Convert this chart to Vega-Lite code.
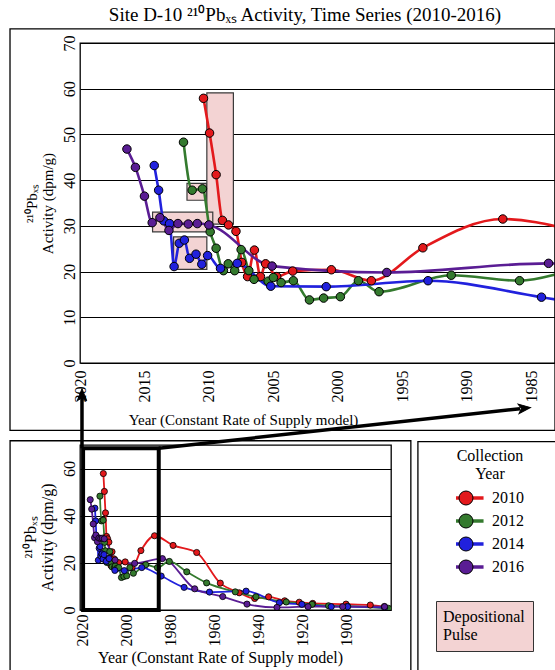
{
  "$schema": "https://vega.github.io/schema/vega-lite/v6.json",
  "background": "white",
  "padding": {"left": 8, "top": 5, "right": 0, "bottom": 0},
  "title": {"text": "Site D-10 ²¹⁰Pbₓₛ Activity, Time Series (2010-2016)", "font": "Liberation Serif", "fontSize": 19, "fontWeight": "normal", "color": "black", "anchor": "middle", "offset": 3, "dx": 22},
  "bounds": "flush",
  "spacing": 82,
  "datasets": {
    "series": [
      {"collection": "2010", "year": 2010.42, "activity": 57.9},
      {"collection": "2010", "year": 2009.95, "activity": 50.3},
      {"collection": "2010", "year": 2009.44, "activity": 41.2},
      {"collection": "2010", "year": 2008.95, "activity": 31.2},
      {"collection": "2010", "year": 2008.48, "activity": 30.2},
      {"collection": "2010", "year": 2007.9, "activity": 28.8},
      {"collection": "2010", "year": 2007.45, "activity": 22.0},
      {"collection": "2010", "year": 2007.0, "activity": 18.9},
      {"collection": "2010", "year": 2006.47, "activity": 24.7},
      {"collection": "2010", "year": 2006.0, "activity": 18.9},
      {"collection": "2010", "year": 2005.6, "activity": 21.7},
      {"collection": "2010", "year": 2004.74, "activity": 18.9},
      {"collection": "2010", "year": 2003.5, "activity": 20.1},
      {"collection": "2010", "year": 2000.5, "activity": 20.4},
      {"collection": "2010", "year": 1997.4, "activity": 18.0},
      {"collection": "2010", "year": 1993.4, "activity": 25.2},
      {"collection": "2010", "year": 1987.2, "activity": 31.5},
      {"collection": "2010", "year": 1978.8, "activity": 27.4},
      {"collection": "2010", "year": 1968.1, "activity": 24.4},
      {"collection": "2010", "year": 1957.4, "activity": 11.4},
      {"collection": "2010", "year": 1948.8, "activity": 7.3},
      {"collection": "2010", "year": 1941.8, "activity": 4.9},
      {"collection": "2010", "year": 1935.5, "activity": 5.6},
      {"collection": "2010", "year": 1928.2, "activity": 3.9},
      {"collection": "2010", "year": 1921.6, "activity": 3.3},
      {"collection": "2010", "year": 1915.5, "activity": 2.8},
      {"collection": "2010", "year": 1900.4, "activity": 2.5},
      {"collection": "2010", "year": 1889.4, "activity": 2.1},
      {"collection": "2010", "year": 1883.0, "activity": 1.5},
      {"collection": "2012", "year": 2011.97, "activity": 48.3},
      {"collection": "2012", "year": 2011.3, "activity": 37.8},
      {"collection": "2012", "year": 2010.5, "activity": 38.1},
      {"collection": "2012", "year": 2009.9, "activity": 28.7},
      {"collection": "2012", "year": 2009.44, "activity": 25.1},
      {"collection": "2012", "year": 2008.87, "activity": 20.2},
      {"collection": "2012", "year": 2008.5, "activity": 21.7},
      {"collection": "2012", "year": 2008.0, "activity": 20.2},
      {"collection": "2012", "year": 2007.5, "activity": 24.8},
      {"collection": "2012", "year": 2006.9, "activity": 20.2},
      {"collection": "2012", "year": 2006.5, "activity": 18.3},
      {"collection": "2012", "year": 2005.4, "activity": 17.9},
      {"collection": "2012", "year": 2005.0, "activity": 18.7},
      {"collection": "2012", "year": 2004.4, "activity": 17.6},
      {"collection": "2012", "year": 2003.45, "activity": 18.0},
      {"collection": "2012", "year": 2002.2, "activity": 13.8},
      {"collection": "2012", "year": 2001.1, "activity": 14.2},
      {"collection": "2012", "year": 1999.8, "activity": 14.5},
      {"collection": "2012", "year": 1998.4, "activity": 18.0},
      {"collection": "2012", "year": 1996.8, "activity": 15.6},
      {"collection": "2012", "year": 1991.2, "activity": 19.2},
      {"collection": "2012", "year": 1985.9, "activity": 18.0},
      {"collection": "2012", "year": 1980.5, "activity": 20.6},
      {"collection": "2012", "year": 1972.6, "activity": 16.2},
      {"collection": "2012", "year": 1963.6, "activity": 11.5},
      {"collection": "2012", "year": 1950.6, "activity": 7.7},
      {"collection": "2012", "year": 1941.2, "activity": 5.6},
      {"collection": "2012", "year": 1927.5, "activity": 3.4},
      {"collection": "2012", "year": 1915.8, "activity": 2.4},
      {"collection": "2012", "year": 1908.3, "activity": 1.8},
      {"collection": "2012", "year": 1899.7, "activity": 1.6},
      {"collection": "2012", "year": 1881.1, "activity": 0.7},
      {"collection": "2014", "year": 2014.24, "activity": 43.2},
      {"collection": "2014", "year": 2013.9, "activity": 37.8},
      {"collection": "2014", "year": 2013.5, "activity": 31.1},
      {"collection": "2014", "year": 2013.05, "activity": 30.5},
      {"collection": "2014", "year": 2012.7, "activity": 21.1},
      {"collection": "2014", "year": 2012.3, "activity": 26.2},
      {"collection": "2014", "year": 2011.9, "activity": 26.9},
      {"collection": "2014", "year": 2011.5, "activity": 22.9},
      {"collection": "2014", "year": 2011.0, "activity": 23.8},
      {"collection": "2014", "year": 2010.55, "activity": 21.6},
      {"collection": "2014", "year": 2010.1, "activity": 23.5},
      {"collection": "2014", "year": 2009.1, "activity": 20.7},
      {"collection": "2014", "year": 2007.8, "activity": 21.8},
      {"collection": "2014", "year": 2005.2, "activity": 16.8},
      {"collection": "2014", "year": 2000.9, "activity": 16.7},
      {"collection": "2014", "year": 1993.0, "activity": 18.0},
      {"collection": "2014", "year": 1984.2, "activity": 14.4},
      {"collection": "2014", "year": 1973.8, "activity": 9.6},
      {"collection": "2014", "year": 1962.3, "activity": 7.6},
      {"collection": "2014", "year": 1945.7, "activity": 8.0},
      {"collection": "2014", "year": 1930.6, "activity": 3.1},
      {"collection": "2014", "year": 1920.4, "activity": 2.4},
      {"collection": "2014", "year": 1907.1, "activity": 1.4},
      {"collection": "2014", "year": 1899.7, "activity": 1.4},
      {"collection": "2014", "year": 1882.9, "activity": 1.0},
      {"collection": "2016", "year": 2016.36, "activity": 46.8},
      {"collection": "2016", "year": 2015.7, "activity": 42.8},
      {"collection": "2016", "year": 2015.0, "activity": 36.5},
      {"collection": "2016", "year": 2014.4, "activity": 30.7},
      {"collection": "2016", "year": 2013.8, "activity": 31.8},
      {"collection": "2016", "year": 2013.1, "activity": 29.0},
      {"collection": "2016", "year": 2012.4, "activity": 30.5},
      {"collection": "2016", "year": 2011.6, "activity": 30.4},
      {"collection": "2016", "year": 2010.9, "activity": 30.5},
      {"collection": "2016", "year": 2010.0, "activity": 30.2},
      {"collection": "2016", "year": 2005.1, "activity": 21.2},
      {"collection": "2016", "year": 1996.2, "activity": 19.8},
      {"collection": "2016", "year": 1983.65, "activity": 21.8},
      {"collection": "2016", "year": 1969.0, "activity": 9.0},
      {"collection": "2016", "year": 1956.3, "activity": 5.7},
      {"collection": "2016", "year": 1945.3, "activity": 2.5},
      {"collection": "2016", "year": 1931.7, "activity": 1.1},
      {"collection": "2016", "year": 1917.6, "activity": 1.4},
      {"collection": "2016", "year": 1901.9, "activity": 1.4},
      {"collection": "2016", "year": 1882.9, "activity": 1.4}
    ],
    "pulses": [
      {"start": 2010.16, "end": 2008.1, "low": 30.4, "high": 59.1},
      {"start": 2011.7, "end": 2010.2, "low": 35.6, "high": 39.3},
      {"start": 2014.37, "end": 2009.7, "low": 28.7, "high": 33.0},
      {"start": 2012.74, "end": 2010.16, "low": 20.5, "high": 27.6}
    ]
  },
  "vconcat": [
    {
      "width": 475,
      "height": 320,
      "layer": [
        {
          "data": {"name": "pulses"},
          "mark": {"type": "rect", "stroke": "#3a3a3a", "strokeWidth": 1.2, "opacity": 1},
          "encoding": {
            "x": {"field": "start", "type": "quantitative", "title": "Year (Constant Rate of Supply model)",
              "scale": {"domain": [1983.15, 2020], "reverse": true, "nice": false, "zero": false},
              "axis": {"values": [2020, 2015, 2010, 2005, 2000, 1995, 1990, 1985], "format": "d", "labelFontSize": 16, "labelPadding": 7, "titleFontSize": 15, "titlePadding": 10, "titleX": 163}},
            "x2": {"field": "end"},
            "y": {"field": "low", "type": "quantitative", "title": ["²¹⁰Pbₓₛ", "Activity (dpm/g)"],
              "scale": {"domain": [0, 70], "nice": false, "zero": false},
              "axis": {"values": [0, 10, 20, 30, 40, 50, 60, 70], "labelFontSize": 16, "labelPadding": 3, "titleFontSize": 15, "titlePadding": 6, "titleLineHeight": 16}},
            "y2": {"field": "high"},
            "color": {"datum": "Depositional Pulse", "type": "nominal", "scale": {"range": ["#f3d3d3"]},
              "legend": {"orient": "none", "legendX": 356, "legendY": 558, "title": null, "symbolSize": 0, "symbolOpacity": 0, "symbolStrokeWidth": 0, "labelOffset": -17, "labelExpr": "['Depositional', 'Pulse']", "labelFont": "Liberation Serif", "labelFontSize": 16, "labelColor": "black", "padding": 8, "fillColor": "#f3d3d3", "strokeColor": "#333333"}}
          }
        },
        {
          "data": {"name": "series"},
          "mark": {"type": "line", "clip": true, "strokeWidth": 2.6, "interpolate": "monotone"},
          "encoding": {
            "x": {"field": "year", "type": "quantitative", "title": "Year (Constant Rate of Supply model)"},
            "y": {"field": "activity", "type": "quantitative", "title": ["²¹⁰Pbₓₛ", "Activity (dpm/g)"]},
            "stroke": {"field": "collection", "type": "nominal",
              "scale": {"range": ["#e3191c", "#347a2e", "#2121dd", "#5a1d94"]},
              "legend": {"orient": "none", "legendX": 376, "legendY": 405, "title": ["Collection", "Year"], "titleFont": "Liberation Serif", "titleFontSize": 16, "titleFontWeight": "normal", "titleColor": "black", "titleAlign": "center", "titleAnchor": "middle", "titleLineHeight": 18, "titlePadding": 8, "labelFont": "Liberation Serif", "labelFontSize": 16, "labelColor": "black", "labelOffset": 18, "symbolType": "M-2.65,0L2.65,0", "symbolSize": 196, "symbolStrokeWidth": 3.5, "rowPadding": 7, "clipHeight": 16, "zindex": 0}}
          }
        },
        {
          "data": {"name": "series"},
          "mark": {"type": "point", "clip": true, "filled": true, "opacity": 1, "stroke": "black", "strokeWidth": 1, "size": 72},
          "encoding": {
            "x": {"field": "year", "type": "quantitative", "title": "Year (Constant Rate of Supply model)"},
            "y": {"field": "activity", "type": "quantitative", "title": ["²¹⁰Pbₓₛ", "Activity (dpm/g)"]},
            "fill": {"field": "collection", "type": "nominal",
              "scale": {"domain": ["2010", "2012", "2014", "2016"], "range": ["#e3191c", "#347a2e", "#2121dd", "#5a1d94"]},
              "legend": {"orient": "none", "legendX": 378, "legendY": 405, "title": ["Collection", "Year"], "titleFont": "Liberation Serif", "titleFontSize": 16, "titleFontWeight": "normal", "titleAlign": "center", "titleAnchor": "middle", "titleLineHeight": 18, "titlePadding": 8, "titleOpacity": 0, "labelFont": "Liberation Serif", "labelFontSize": 16, "labelOpacity": 0, "labelOffset": 18, "symbolType": "circle", "symbolSize": 196, "symbolStrokeColor": "black", "symbolStrokeWidth": 1, "rowPadding": 7, "clipHeight": 16, "zindex": 1}}
          }
        },
        {
          "data": {"values": [{}]},
          "mark": {"type": "rect", "fill": "transparent", "stroke": "black", "strokeWidth": 1.3},
          "encoding": {
            "x": {"datum": 2025.43, "type": "quantitative"},
            "x2": {"datum": 1983.15},
            "y": {"datum": 73.1, "type": "quantitative"},
            "y2": {"datum": -14.75}
          }
        }
      ]
    },
    {
      "width": 311,
      "height": 165,
      "layer": [
        {
          "data": {"name": "series"},
          "mark": {"type": "line", "clip": true, "strokeWidth": 1.8, "interpolate": "monotone"},
          "encoding": {
            "x": {"field": "year", "type": "quantitative", "title": "Year (Constant Rate of Supply model)",
              "scale": {"domain": [1880, 2021], "reverse": true, "nice": false, "zero": false},
              "axis": {"values": [2020, 2000, 1980, 1960, 1940, 1920, 1900], "format": "d", "labelFontSize": 16, "labelPadding": 4, "titleFontSize": 16, "titlePadding": 3, "titleX": 140}},
            "y": {"field": "activity", "type": "quantitative", "title": ["²¹⁰Pbₓₛ", "Activity (dpm/g)"],
              "scale": {"domain": [0, 70], "nice": false, "zero": false},
              "axis": {"values": [0, 20, 40, 60], "labelFontSize": 16, "labelPadding": 3, "titleFontSize": 16, "titlePadding": 6, "titleLineHeight": 17, "titleY": 92}},
            "stroke": {"field": "collection", "type": "nominal",
              "scale": {"range": ["#e3191c", "#347a2e", "#2121dd", "#5a1d94"]}}
          }
        },
        {
          "data": {"name": "series"},
          "mark": {"type": "point", "clip": true, "filled": true, "opacity": 1, "stroke": "black", "strokeWidth": 0.8, "size": 38},
          "encoding": {
            "x": {"field": "year", "type": "quantitative", "title": "Year (Constant Rate of Supply model)"},
            "y": {"field": "activity", "type": "quantitative", "title": ["²¹⁰Pbₓₛ", "Activity (dpm/g)"]},
            "fill": {"field": "collection", "type": "nominal",
              "scale": {"domain": ["2010", "2012", "2014", "2016"], "range": ["#e3191c", "#347a2e", "#2121dd", "#5a1d94"]}}
          }
        },
        {
          "data": {"values": [{}]},
          "mark": {"type": "rect", "fill": "transparent", "stroke": "black", "strokeWidth": 4},
          "encoding": {
            "x": {"datum": 2019.6, "type": "quantitative"},
            "x2": {"datum": 1985.3},
            "y": {"datum": 68.6, "type": "quantitative"},
            "y2": {"datum": 0}
          }
        },
        {
          "data": {"values": [{}]},
          "mark": {"type": "rect", "fill": "transparent", "stroke": "black", "strokeWidth": 1.3},
          "encoding": {
            "x": {"datum": 2052.7, "type": "quantitative"},
            "x2": {"datum": 1871.0},
            "y": {"datum": 71.8, "type": "quantitative"},
            "y2": {"datum": -30}
          }
        },
        {
          "data": {"values": [{}]},
          "mark": {"type": "rect", "fill": "transparent", "stroke": "black", "strokeWidth": 1.3},
          "encoding": {
            "x": {"datum": 1867.8, "type": "quantitative"},
            "x2": {"datum": 1805.2},
            "y": {"datum": 71.4, "type": "quantitative"},
            "y2": {"datum": -30}
          }
        },
        {
          "data": {"values": [{}]},
          "mark": {"type": "rule", "stroke": "black", "strokeWidth": 3.5},
          "encoding": {
            "x": {"datum": 2020.1, "type": "quantitative"},
            "x2": {"datum": 2020.1},
            "y": {"datum": 68.6, "type": "quantitative"},
            "y2": {"datum": 91.5}
          }
        },
        {
          "data": {"values": [{}]},
          "mark": {"type": "rule", "stroke": "black", "strokeWidth": 3.5},
          "encoding": {
            "x": {"datum": 1985.3, "type": "quantitative"},
            "x2": {"datum": 1821.5},
            "y": {"datum": 68.6, "type": "quantitative"},
            "y2": {"datum": 85.4}
          }
        },
        {
          "data": {"values": [{}]},
          "mark": {"type": "point", "shape": "M0,-1L0.75,0.9L0,0.45L-0.75,0.9Z", "filled": true, "fill": "black", "stroke": "black", "strokeWidth": 1, "opacity": 1, "size": 160, "angle": 0},
          "encoding": {
            "x": {"datum": 2020.1, "type": "quantitative"},
            "y": {"datum": 91.2, "type": "quantitative"}
          }
        },
        {
          "data": {"values": [{}]},
          "mark": {"type": "point", "shape": "M0,-1L0.75,0.9L0,0.45L-0.75,0.9Z", "filled": true, "fill": "black", "stroke": "black", "strokeWidth": 1, "opacity": 1, "size": 160, "angle": 84},
          "encoding": {
            "x": {"datum": 1819.6, "type": "quantitative"},
            "y": {"datum": 85.6, "type": "quantitative"}
          }
        }
      ]
    }
  ],
  "config": {
    "font": "Liberation Serif",
    "view": {"stroke": "black", "strokeWidth": 1.3},
    "axis": {"labelFont": "Liberation Serif", "titleFont": "Liberation Serif", "labelColor": "black", "titleColor": "black", "titleFontWeight": "normal", "ticks": false, "domain": false, "grid": false, "labelOverlap": false, "labelFlush": false},
    "axisX": {"labelAngle": -90},
    "axisY": {"labelAngle": -90, "grid": true, "gridColor": "black", "gridWidth": 1.2, "gridOpacity": 1}
  }
}
